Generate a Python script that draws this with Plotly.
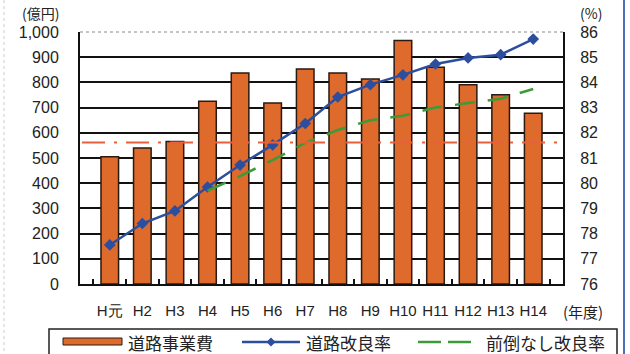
import plotly.graph_objects as go

# ---- data ----
years = ["H元", "H2", "H3", "H4", "H5", "H6", "H7", "H8", "H9", "H10", "H11", "H12", "H13", "H14"]
road_cost = [505, 540, 565, 725, 837, 718, 853, 837, 813, 966, 860, 791, 751, 678]          # 億円
improve_rate = [77.55, 78.4, 78.9, 79.85, 80.72, 81.52, 82.37, 83.42, 83.91, 84.3, 84.73, 84.97, 85.1, 85.72]  # %
noadv_years = ["H4", "H5", "H6", "H7", "H8", "H9", "H10", "H11", "H12", "H13", "H14"]
noadv_rate = [79.7, 80.28, 80.92, 81.6, 82.11, 82.5, 82.68, 83.0, 83.18, 83.35, 83.74]
ref_rate = 81.62   # horizontal reference line (%)
left_ticks = [0, 100, 200, 300, 400, 500, 600, 700, 800, 900, 1000]
right_ticks = [76, 77, 78, 79, 80, 81, 82, 83, 84, 85, 86]

FONT = "Noto Sans CJK JP"
TICKFONT = "Liberation Sans"
ORANGE = "#DE6A2B"
BLUE = "#2D4E9E"
GREEN = "#3D9A3A"
RED = "#E8603C"

L, R, T, B = 80, 563, 32, 284
W, H = 630, 354
def px(xp):
    return (xp - L) / (R - L)
def py(yp):
    return (B - yp) / (B - T)

fig = go.Figure()
fig.add_trace(go.Bar(x=years, y=road_cost, name="道路事業費", marker=dict(color=ORANGE, line=dict(color="#2a1a12", width=1.5)),
                     width=0.54, yaxis="y", showlegend=False))
fig.add_trace(go.Scatter(x=years, y=improve_rate, name="道路改良率", mode="lines+markers", yaxis="y2",
                         line=dict(color=BLUE, width=2.5), marker=dict(symbol="diamond", size=9, color=BLUE),
                         showlegend=False))
fig.add_trace(go.Scatter(x=noadv_years, y=noadv_rate, name="前倒なし改良率", mode="lines", yaxis="y2",
                         line=dict(color=GREEN, width=2.5, dash="20px,13px"), showlegend=False))

shapes = []
# reference dash-dot line
shapes.append(dict(type="line", xref="paper", yref="y2", x0=px(82), x1=px(566), y0=ref_rate, y1=ref_rate,
                   line=dict(color=RED, width=2, dash="23px,9px,3px,9px"), layer="above"))
# top border dotted line
shapes.append(dict(type="line", xref="paper", yref="paper", x0=0, x1=1, y0=1, y1=1,
                   line=dict(color="white", width=2.5), layer="above"))
shapes.append(dict(type="line", xref="paper", yref="paper", x0=0, x1=1, y0=1, y1=1,
                   line=dict(color="#888", width=1, dash="dot"), layer="above"))
# page frame lines
shapes.append(dict(type="line", xref="paper", yref="paper", x0=px(624), x1=px(624), y0=py(0), y1=py(354),
                   line=dict(color="#4A70B8", width=2)))
shapes.append(dict(type="line", xref="paper", yref="paper", x0=px(4), x1=px(4), y0=py(0), y1=py(354),
                   line=dict(color="#cccccc", width=1, dash="dot")))
# legend box
shapes.append(dict(type="rect", xref="paper", yref="paper", x0=px(49), x1=px(617), y0=py(329), y1=py(360),
                   line=dict(color="#222", width=1.5), fillcolor="white"))
# legend swatches
shapes.append(dict(type="rect", xref="paper", yref="paper", x0=px(63), x1=px(122), y0=py(338), y1=py(345),
                   line=dict(color="#2a1a12", width=1), fillcolor=ORANGE))
shapes.append(dict(type="line", xref="paper", yref="paper", x0=px(242), x1=px(300), y0=py(342), y1=py(342),
                   line=dict(color=BLUE, width=2.5)))
shapes.append(dict(type="path", xref="paper", yref="paper",
                   path="M {a},{b} L {c},{d} L {a},{e} L {f},{d} Z".format(a=px(271), b=py(337.5), c=px(275.5), d=py(342), e=py(346.5), f=px(266.5)),
                   fillcolor=BLUE, line=dict(color=BLUE, width=0)))
shapes.append(dict(type="line", xref="paper", yref="paper", x0=px(418), x1=px(441), y0=py(342), y1=py(342),
                   line=dict(color=GREEN, width=2.5)))
shapes.append(dict(type="line", xref="paper", yref="paper", x0=px(448), x1=px(471), y0=py(342), y1=py(342),
                   line=dict(color=GREEN, width=2.5)))

def ann(text, x, y, size, xanchor="center"):
    return dict(text=text, xref="paper", yref="paper", x=px(x), y=py(y), xanchor=xanchor, yanchor="middle",
                showarrow=False, font=dict(size=size, family=FONT, color="#222"))

annotations = [
    ann("(億円)", 40, 13, 14),
    ann("(%)", 591, 13, 14),
    ann("(年度)", 561, 311, 15, "left"),
    ann("道路事業費", 126, 342, 17, "left"),
    ann("道路改良率", 304, 342, 17, "left"),
    ann("前倒なし改良率", 484, 342, 17, "left"),
]

fig.update_layout(
    width=W, height=H,
    margin=dict(l=L, r=W - R, t=T, b=H - B),
    paper_bgcolor="white", plot_bgcolor="white",
    font=dict(family=FONT, size=16, color="#222"),
    showlegend=False,
    xaxis=dict(type="category", showline=True, linecolor="#111", linewidth=2,
               ticks="inside", ticklen=5, tickcolor="#111", tickwidth=1.5, tickson="boundaries",
               tickangle=0, tickfont=dict(size=15, family=TICKFONT), ticklabelstandoff=12, showgrid=False),
    yaxis=dict(range=[0, 1000], tickvals=left_ticks, ticktext=[f"{v:,}" for v in left_ticks],
               showline=True, linecolor="#111", linewidth=2, showgrid=True, gridcolor="#111", gridwidth=1.5,
               ticks="", ticklabelstandoff=16, zeroline=False, tickfont=dict(size=16, family=TICKFONT)),
    yaxis2=dict(range=[76, 86], tickvals=right_ticks, overlaying="y", side="right",
                showline=True, linecolor="#111", linewidth=2, showgrid=False, zeroline=False,
                ticks="", ticklabelstandoff=12, tickfont=dict(size=16, family=TICKFONT)),
    shapes=shapes, annotations=annotations,
)

fig.write_html("out.html")
